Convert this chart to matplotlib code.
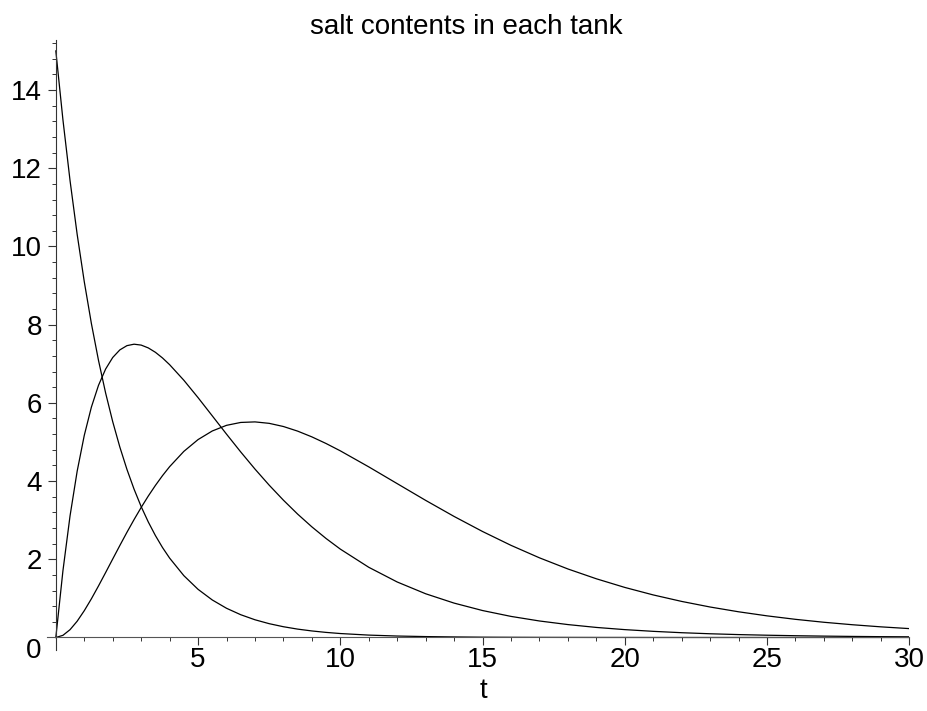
import matplotlib
matplotlib.use('Agg')
import matplotlib.pyplot as plt
from matplotlib.ticker import MultipleLocator

plt.rcParams['font.family'] = ['Liberation Sans', 'DejaVu Sans']

# time points (min)
t = [0, 0.25, 0.5, 0.75, 1, 1.25, 1.5, 1.75, 2, 2.25, 2.5, 2.75, 3, 3.25, 3.5, 3.75, 4,
     4.5, 5, 5.5, 6, 6.5, 7, 7.5, 8, 8.5, 9, 9.5, 10,
     11, 12, 13, 14, 15, 16, 17, 18, 19, 20, 21, 22, 23, 24, 25, 26, 27, 28, 29, 30]

# salt in tank 1
x1 = [15, 13.237, 11.682, 10.309, 9.098, 8.029, 7.086, 6.253, 5.518, 4.870, 4.298, 3.793,
      3.347, 2.954, 2.607, 2.300, 2.030,
      1.581, 1.231, 0.959, 0.747, 0.582, 0.453, 0.353, 0.275, 0.214, 0.167, 0.130, 0.101,
      0.061, 0.037, 0.023, 0.014, 0.008, 0.005, 0.003, 0.002, 0.001, 0.001,
      0, 0, 0, 0, 0, 0, 0, 0, 0, 0]

# salt in tank 2
x2 = [0, 1.707, 3.111, 4.252, 5.168, 5.891, 6.448, 6.864, 7.160, 7.354, 7.463, 7.500,
      7.477, 7.405, 7.293, 7.148, 6.976,
      6.578, 6.133, 5.667, 5.200, 4.744, 4.307, 3.895, 3.511, 3.155, 2.829, 2.531, 2.260,
      1.795, 1.419, 1.118, 0.879, 0.689, 0.539, 0.422, 0.330, 0.257, 0.201,
      0.157, 0.122, 0.095, 0.074, 0.058, 0.045, 0.035, 0.027, 0.021, 0.017]

# salt in tank 3
x3 = [0, 0.055, 0.200, 0.416, 0.685, 0.989, 1.318, 1.660, 2.007, 2.352, 2.690, 3.015,
      3.325, 3.617, 3.888, 4.139, 4.368,
      4.759, 5.061, 5.281, 5.425, 5.499, 5.513, 5.476, 5.395, 5.277, 5.130, 4.960, 4.773,
      4.363, 3.934, 3.506, 3.095, 2.710, 2.356, 2.037, 1.752, 1.501, 1.280,
      1.088, 0.922, 0.779, 0.657, 0.553, 0.464, 0.389, 0.326, 0.272, 0.227]

fig = plt.figure(figsize=(9.27, 7.11), dpi=100)
ax = fig.add_axes([0.0504, 0.0858, 0.9305, 0.858])

for y in (x1, x2, x3):
    ax.plot(t, y, color='black', lw=0.9)

ax.set_xlim(-0.32, 30)
ax.set_ylim(-0.32, 15.28)

ax.spines['left'].set_position('zero')
ax.spines['bottom'].set_position('zero')
ax.spines['right'].set_visible(False)
ax.spines['top'].set_visible(False)
ax.spines['left'].set_color('#333333')
ax.spines['bottom'].set_color('#555555')

ax.set_xticks([5, 10, 15, 20, 25, 30])
ax.xaxis.set_minor_locator(MultipleLocator(1))
ax.set_yticks([2, 4, 6, 8, 10, 12, 14])
ax.yaxis.set_minor_locator(MultipleLocator(0.4))

ax.tick_params(which='major', length=5.8, width=0.8, colors='#333333',
               labelcolor='black', labelsize=20)
ax.tick_params(which='minor', length=3, width=0.7, colors='#333333')
ax.tick_params(axis='x', which='major', pad=1)
ax.tick_params(axis='y', which='major', pad=4)

# origin label sits below-left like in the original
ax.annotate('0', xy=(0, 0), xytext=(-22, -14), textcoords='offset pixels',
            ha='center', va='center', fontsize=20)

ax.set_title('salt contents in each tank', fontsize=20, pad=4.5, x=0.486)
fig.text(483 / 927, 1 - 691 / 711, 't', ha='center', va='center', fontsize=20)

fig.savefig('out.png', dpi=100, facecolor='white')
